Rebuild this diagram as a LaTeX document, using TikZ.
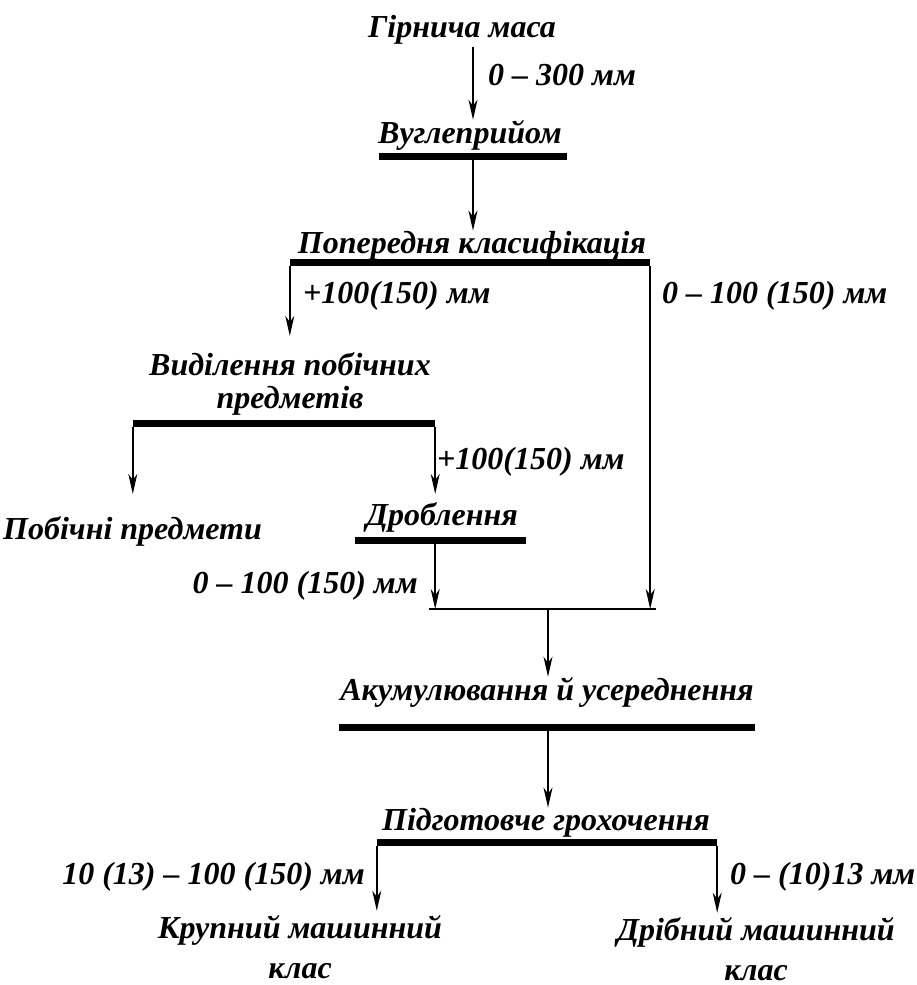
\documentclass[tikz,border=0pt]{standalone}
\usepackage{fontspec}
\setmainfont{Liberation Serif}
\usetikzlibrary{arrows.meta, positioning}

\begin{document}
\begin{tikzpicture}[x=1pt, y=-1pt, >={Stealth[length=20pt, width=9pt, inset=6pt]},
        every node/.style={inner sep=0pt, font=\fontsize{32}{33}\selectfont\bfseries\itshape},
        stage/.style={anchor=base, align=center},
        size/.style={anchor=base west},
        bar/.style={fill=black, minimum height=7pt, inner sep=0pt},
        flow/.style={->, line width=1.5pt}]

    \useasboundingbox (0,0) rectangle (917,985);

    % --- Stages ---
    \node[stage] (mass)    at (462,37)  {Гірнича маса};
    \node[stage] (intake)  at (470,143) {Вуглеприйом};
    \node[stage] (presort) at (472,253) {Попередня класифікація};
    \node[stage] (sep)     at (290,408) {Виділення побічних\\предметів};
    \node[anchor=base west] (byprod) at (3,539) {Побічні предмети};
    \node[stage] (crush)   at (442,525) {Дроблення};
    \node[stage] (accum)   at (547,700) {Акумулювання й усереднення};
    \node[stage] (prep)    at (546,830) {Підготовче грохочення};
    \node[stage] (coarse)  at (300,978) {Крупний машинний\\[7pt]клас};
    \node[stage] (fine)    at (756,980) {Дрібний машинний\\[7pt]клас};

    % --- Bars ---
    \node[bar, minimum width=188pt] (intakebar)  at (473,156.5) {};
    \node[bar, minimum width=360pt] (presortbar) at (470,262.5) {};
    \node[bar, minimum width=302pt] (sepbar)     at (284,423.5) {};
    \node[bar, minimum width=171pt] (crushbar)   at (440.5,540) {};
    \node[bar, minimum width=416pt] (accumbar)   at (547,727) {};
    \node[bar, minimum width=340pt] (prepbar)    at (547,842) {};

    \coordinate (join) at (548,609);

    % --- Flows ---
    \draw[flow, shorten <=3pt] (intakebar.north |- mass.south) -- (intakebar.north |- intake.north);
    \draw[flow] (intakebar.south) -- (intakebar.south |- presort.north);
    \draw[flow, shorten >=16pt] (presortbar.south west) -- (presortbar.south west |- sep.north);
    \draw[flow] (presortbar.south east) -- (presortbar.south east |- join);
    \draw[flow, shorten >=22pt] (sepbar.south west) -- (sepbar.south west |- byprod.north);
    \draw[flow, shorten >=8pt] (sepbar.south east) -- (sepbar.south east |- crush.north);
    \draw[flow] (crushbar.south -| sepbar.south east) -- (join -| sepbar.south east);
    \draw[line width=1.5pt] ([xshift=-6pt]join -| sepbar.east) -- ([xshift=6pt]join -| presortbar.east);
    \draw[flow] (join) -- (join |- accum.north);
    \draw[flow] (accumbar.south -| join) -- (join |- prep.north);
    \draw[flow, shorten >=4pt] (prepbar.south west) -- (prepbar.south west |- coarse.north);
    \draw[flow, shorten >=4pt] (prepbar.south east) -- (prepbar.south east |- fine.north);

    % --- Size classes ---
    \node[size] (s300)  at (488,85)  {0 – 300 мм};
    \node[size] (s100a) at (303,303) {+100(150) мм};
    \node[size] (s100b) at (662,303) {0 – 100 (150) мм};
    \node[size] (s100c) at (437,469) {+100(150) мм};
    \node[size, anchor=base east] (s100d) at (418,593) {0 – 100 (150) мм};
    \node[size, anchor=base east] (scoarse) at (365,884) {10 (13) – 100 (150) мм};
    \node[size] (sfine) at (730,884) {0 – (10)13 мм};

\end{tikzpicture}
\end{document}
